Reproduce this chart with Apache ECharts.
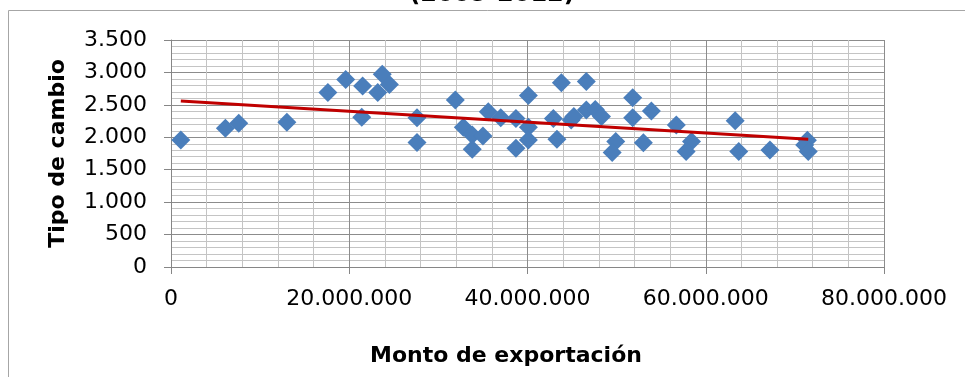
<!DOCTYPE html>
<html>
<head>
<meta charset="utf-8">
<script src="https://cdn.jsdelivr.net/npm/echarts@6/dist/echarts.min.js"></script>
<style>html,body{margin:0;padding:0;background:#fff;}#c{width:965px;height:377px;}</style>
</head>
<body>
<div id="c"></div>
<script>
// Monto de exportación (x) and Tipo de cambio (y)
const exportAmount = [
  1100000, 6100000, 7600000, 13000000, 17600000, 19600000, 21500000, 21400000,
  23700000, 23200000, 24500000, 27600000, 27600000, 31900000, 32800000, 33800000,
  35000000, 33800000, 35600000, 37000000, 38700000, 38700000, 40100000, 40100000,
  40100000, 42900000, 43800000, 43300000, 44900000, 45200000, 46600000, 46600000,
  47600000, 48300000, 49900000, 49500000, 51800000, 51800000, 53900000, 53000000,
  56700000, 58400000, 57800000, 63300000, 63700000, 67200000, 71400000, 71100000,
  71500000
];
const exchangeRate = [
  1960, 2140, 2215, 2230, 2690, 2890, 2790, 2310,
  2970, 2690, 2815, 2300, 1920, 2575, 2155, 2035,
  2020, 1815, 2395, 2300, 2290, 1830, 2645, 2155,
  1960, 2290, 2840, 1970, 2265, 2320, 2860, 2420,
  2430, 2320, 1935, 1765, 2610, 2300, 2405, 1915,
  2190, 1935, 1780, 2255, 1780, 1805, 1955, 1880,
  1780
];
// linear trend line end points
const trendX = [1100000, 71500000];
const trendY = [2558, 1969];

const titleText = '(2005-2012)';
const xTitle = 'Monto de exportación';
const yTitle = 'Tipo de cambio';

function fmt(v) { return String(v).replace(/\B(?=(\d{3})+(?!\d))/g, '.'); }

const FONT = 'DejaVu Sans';
const chart = echarts.init(document.getElementById('c'));
const axisCommon = {
  type: 'value',
  axisLine: { show: true, onZero: false, lineStyle: { color: '#868686', width: 1 } },
  axisTick: { show: true, length: 7, lineStyle: { color: '#868686' } },
  minorTick: { show: false, splitNumber: 5 },
  splitLine: { show: true, lineStyle: { color: '#8c8c8c', width: 1 } },
  minorSplitLine: { show: true, lineStyle: { color: '#c4c4c4', width: 1 } }
};
chart.setOption({
  animation: false,
  backgroundColor: '#fff',
  title: [
    { text: titleText, left: 492, top: -17, textAlign: 'center', padding: 0,
      textStyle: { fontFamily: FONT, fontWeight: 'bold', fontSize: 24, color: '#000' } },
    { text: xTitle, left: 506, top: 345, textAlign: 'center', padding: 0,
      textStyle: { fontFamily: FONT, fontWeight: 'bold', fontSize: 22, color: '#000' } }
  ],
  graphic: [{
    type: 'rect', silent: true, z: -10,
    shape: { x: 8.5, y: 10.5, width: 1000, height: 400 },
    style: { fill: null, stroke: '#a6a6a6', lineWidth: 1 }
  }],
  grid: { left: 171, right: 81, top: 40, bottom: 110 },
  xAxis: Object.assign({}, axisCommon, {
    min: 0, max: 80000000, interval: 20000000,
    axisLabel: { formatter: fmt, fontFamily: FONT, fontSize: 22, color: '#000', margin: 21 }
  }),
  yAxis: Object.assign({}, axisCommon, {
    min: 0, max: 3500, interval: 500,
    name: yTitle, nameLocation: 'middle', nameGap: 102,
    nameTextStyle: { fontFamily: FONT, fontWeight: 'bold', fontSize: 22, color: '#000' },
    axisLabel: { formatter: fmt, fontFamily: FONT, fontSize: 22, color: '#000', margin: 24 }
  }),
  series: [
    {
      type: 'scatter', symbol: 'diamond', symbolSize: 19,
      itemStyle: { color: '#4A7EBB', opacity: 1 },
      data: exportAmount.map((x, i) => [x, exchangeRate[i]]),
      z: 2
    },
    {
      type: 'line', showSymbol: false, symbol: 'none',
      lineStyle: { color: '#C00000', width: 3 },
      data: trendX.map((x, i) => [x, trendY[i]]),
      z: 3
    }
  ]
});
</script>
</body>
</html>
